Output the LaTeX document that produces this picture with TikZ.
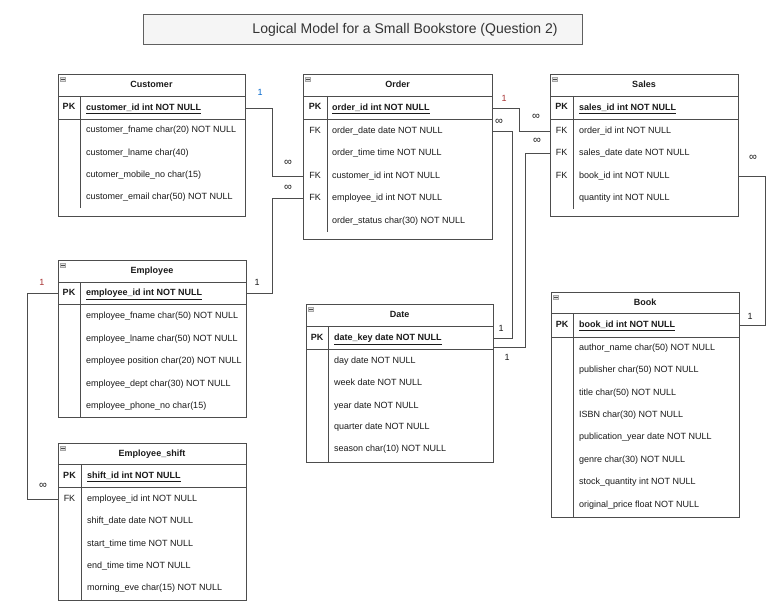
\documentclass[tikz,border=0pt]{standalone}
\usepackage{fontspec}
\setmainfont{Liberation Sans}
\usetikzlibrary{fit}
\definecolor{lnc}{HTML}{4D4D4D}
\definecolor{txc}{HTML}{1A1A1A}
\definecolor{onered}{HTML}{A83232}
\definecolor{oneblue}{HTML}{0066CC}
\definecolor{ttlfill}{HTML}{F5F5F5}
\tikzset{
  conn/.style={draw=lnc, line width=0.8bp},
  tblline/.style={draw=lnc, line width=0.8bp},
  tblframe/.style={draw=lnc, line width=0.9bp, inner sep=0pt, fill=white},
  basetxt/.style={inner sep=0pt, text height=7bp, text depth=2bp, font=\fontsize{9bp}{11bp}\selectfont, text=txc},
  fld/.style={basetxt, anchor=west},
  pkfld/.style={fld, font=\fontsize{9bp}{11bp}\selectfont\bfseries},
  keylbl/.style={basetxt, font=\fontsize{9bp}{11bp}\selectfont\bfseries},
  fklbl/.style={basetxt},
  hdr/.style={basetxt, font=\fontsize{9bp}{11bp}\selectfont\bfseries},
  card/.style={basetxt},
  inf/.style={inner sep=0pt, font=\fontsize{11bp}{12bp}\selectfont, text=txc},
  icon/.style={draw=gray!70, fill=gray!25, line width=0.4bp, minimum width=5bp, minimum height=4.5bp, inner sep=0pt,
    path picture={\draw[black!70, line width=0.6bp] ([xshift=0.8bp]path picture bounding box.west) -- ([xshift=-0.8bp]path picture bounding box.east);}},
}
% #1 name, #2 x1, #3 y1, #4 x2, #5 y2, #6 header bottom, #7 pk bottom, #8 divider x, #9 title
\newcommand\ertbl[9]{%
  \node[tblframe, fit={(#2,#3) (#4,#5)}] (#1) {};
  \draw[tblline] (#2,#6) -- (#4,#6) (#2,#7) -- (#4,#7);
  \node[hdr] (#1-h) at ({(#2+#4)/2},{(#3+#6)/2}) {#9};
  \node[icon] (#1-i) at ({#2+5},{#3+5}) {};
  \node[keylbl] (#1-pk) at ({(#2+#8)/2},{(#6+#7)/2}) {PK};
}
\begin{document}
\begin{tikzpicture}[x=1bp, y=-1bp]
\useasboundingbox[fill=white] (0,0) rectangle (782,608);

% title
\node[draw=gray!75!black, fill=ttlfill, line width=0.9bp, inner sep=0pt, fit={(143,14) (582,44)}] (title) {};
\node[inner sep=0pt, font=\fontsize{14bp}{16bp}\selectfont, text=black!80] (titletext) at (405,30) {Logical Model for a Small Bookstore (Question 2)};

% ---------- Customer ----------
\ertbl{cust}{58}{74}{245}{216}{96}{119}{80}{Customer}
\draw[tblline] (80,96) -- (80,208);
\node[pkfld] (cust-k) at (86,108) {\underline{customer\_id int NOT NULL}};
\node[fld] (cust-f1) at (86,130) {customer\_fname char(20) NOT NULL};
\node[fld] (cust-f2) at (86,153) {customer\_lname char(40)};
\node[fld] (cust-f3) at (86,175) {cutomer\_mobile\_no char(15)};
\node[fld] (cust-f4) at (86,197) {customer\_email char(50) NOT NULL};

% ---------- Order ----------
\ertbl{ord}{303}{74}{492}{239}{96}{119}{327}{Order}
\draw[tblline] (327,96) -- (327,232);
\node[pkfld] (ord-k) at (332,108) {\underline{order\_id int NOT NULL}};
\node[fklbl] (ord-fk1) at (315,131) {FK};
\node[fld] (ord-f1) at (332,131) {order\_date date NOT NULL};
\node[fld] (ord-f2) at (332,153) {order\_time time NOT NULL};
\node[fklbl] (ord-fk3) at (315,176) {FK};
\node[fld] (ord-f3) at (332,176) {customer\_id int NOT NULL};
\node[fklbl] (ord-fk4) at (315,198) {FK};
\node[fld] (ord-f4) at (332,198) {employee\_id int NOT NULL};
\node[fld] (ord-f5) at (332,221) {order\_status char(30) NOT NULL};

% ---------- Sales ----------
\ertbl{sales}{550}{74}{738}{216}{96}{119}{573}{Sales}
\draw[tblline] (573,96) -- (573,209);
\node[pkfld] (sales-k) at (579,108) {\underline{sales\_id int NOT NULL}};
\node[fklbl] (sales-fk1) at (561.5,131) {FK};
\node[fld] (sales-f1) at (579,131) {order\_id int NOT NULL};
\node[fklbl] (sales-fk2) at (561.5,153) {FK};
\node[fld] (sales-f2) at (579,153) {sales\_date date NOT NULL};
\node[fklbl] (sales-fk3) at (561.5,176) {FK};
\node[fld] (sales-f3) at (579,176) {book\_id int NOT NULL};
\node[fld] (sales-f4) at (579,198) {quantity int NOT NULL};

% ---------- Employee ----------
\ertbl{emp}{58}{260}{246}{417}{282}{304}{80}{Employee}
\draw[tblline] (80,282) -- (80,417);
\node[pkfld] (emp-k) at (86,293) {\underline{employee\_id int NOT NULL}};
\node[fld] (emp-f1) at (86,316) {employee\_fname char(50) NOT NULL};
\node[fld] (emp-f2) at (86,339) {employee\_lname char(50) NOT NULL};
\node[fld] (emp-f3) at (86,361) {employee position char(20) NOT NULL};
\node[fld] (emp-f4) at (86,384) {employee\_dept char(30) NOT NULL};
\node[fld] (emp-f5) at (86,406) {employee\_phone\_no char(15)};

% ---------- Date ----------
\ertbl{date}{306}{304}{493}{462}{326}{349}{328}{Date}
\draw[tblline] (328,326) -- (328,462);
\node[pkfld] (date-k) at (334,338) {\underline{date\_key date NOT NULL}};
\node[fld] (date-f1) at (334,361) {day date NOT NULL};
\node[fld] (date-f2) at (334,383) {week date NOT NULL};
\node[fld] (date-f3) at (334,406) {year date NOT NULL};
\node[fld] (date-f4) at (334,427) {quarter date NOT NULL};
\node[fld] (date-f5) at (334,449) {season char(10) NOT NULL};
\coordinate (date-in2) at (493,347);

% ---------- Book ----------
\ertbl{book}{551}{292}{739}{517}{313}{337}{573}{Book}
\draw[tblline] (573,313) -- (573,517);
\node[pkfld] (book-k) at (579,325) {\underline{book\_id int NOT NULL}};
\node[fld] (book-f1) at (579,348) {author\_name char(50) NOT NULL};
\node[fld] (book-f2) at (579,370) {publisher char(50) NOT NULL};
\node[fld] (book-f3) at (579,393) {title char(50) NOT NULL};
\node[fld] (book-f4) at (579,415) {ISBN char(30) NOT NULL};
\node[fld] (book-f5) at (579,437) {publication\_year date NOT NULL};
\node[fld] (book-f6) at (579,460) {genre char(30) NOT NULL};
\node[fld] (book-f7) at (579,482) {stock\_quantity int NOT NULL};
\node[fld] (book-f8) at (579,505) {original\_price float NOT NULL};

% ---------- Employee_shift ----------
\ertbl{shift}{58}{443}{246}{600}{464}{487}{81}{Employee\_shift}
\draw[tblline] (81,464) -- (81,600);
\node[pkfld] (shift-k) at (87,476) {\underline{shift\_id int NOT NULL}};
\node[fklbl] (shift-fk1) at (69.5,499) {FK};
\node[fld] (shift-f1) at (87,499) {employee\_id int NOT NULL};
\node[fld] (shift-f2) at (87,521) {shift\_date date NOT NULL};
\node[fld] (shift-f3) at (87,544) {start\_time time NOT NULL};
\node[fld] (shift-f4) at (87,566) {end\_time time NOT NULL};
\node[fld] (shift-f5) at (87,588) {morning\_eve char(15) NOT NULL};

% ---------- connectors ----------
\draw[conn] (cust.east |- cust-k.west) -- ++(27,0) |- (ord.west |- ord-f3.west);
\draw[conn] (emp.east |- emp-k.west) -- ++(26,0) |- (ord.west |- ord-f4.west);
\draw[conn] (ord.east |- ord-k.west) -- ++(27,0) |- (sales.west |- sales-f1.west);
\draw[conn] (ord.east |- ord-f1.west) -- ++(20,0) |- (date.east |- date-k.west);
\draw[conn] (sales.west |- sales-f2.west) -- ++(-24,0) |- (date-in2);
\draw[conn] (sales.east |- sales-f3.west) -- ++(27,0) |- (book.east |- book-k.west);
\draw[conn] (emp.west |- emp-k.west) -- ++(-30,0) |- (shift.west |- shift-f1.west);

% ---------- cardinalities ----------
\node[card, text=oneblue] (c1a) at (260,93) {1};
\node[inf] (c1b) at (288,163) {∞};
\node[card] (c2a) at (257,283) {1};
\node[inf] (c2b) at (288,188) {∞};
\node[card, text=onered] (c3a) at (504,99) {1};
\node[inf] (c3b) at (536,117) {∞};
\node[inf] (c4a) at (499,122) {∞};
\node[card] (c4b) at (501,329) {1};
\node[inf] (c5a) at (537,141) {∞};
\node[card] (c5b) at (507,358) {1};
\node[inf] (c6a) at (753,158) {∞};
\node[card] (c6b) at (750,317) {1};
\node[card, text=onered] (c7a) at (42,283) {1};
\node[inf] (c7b) at (43,486) {∞};
\end{tikzpicture}
\end{document}
